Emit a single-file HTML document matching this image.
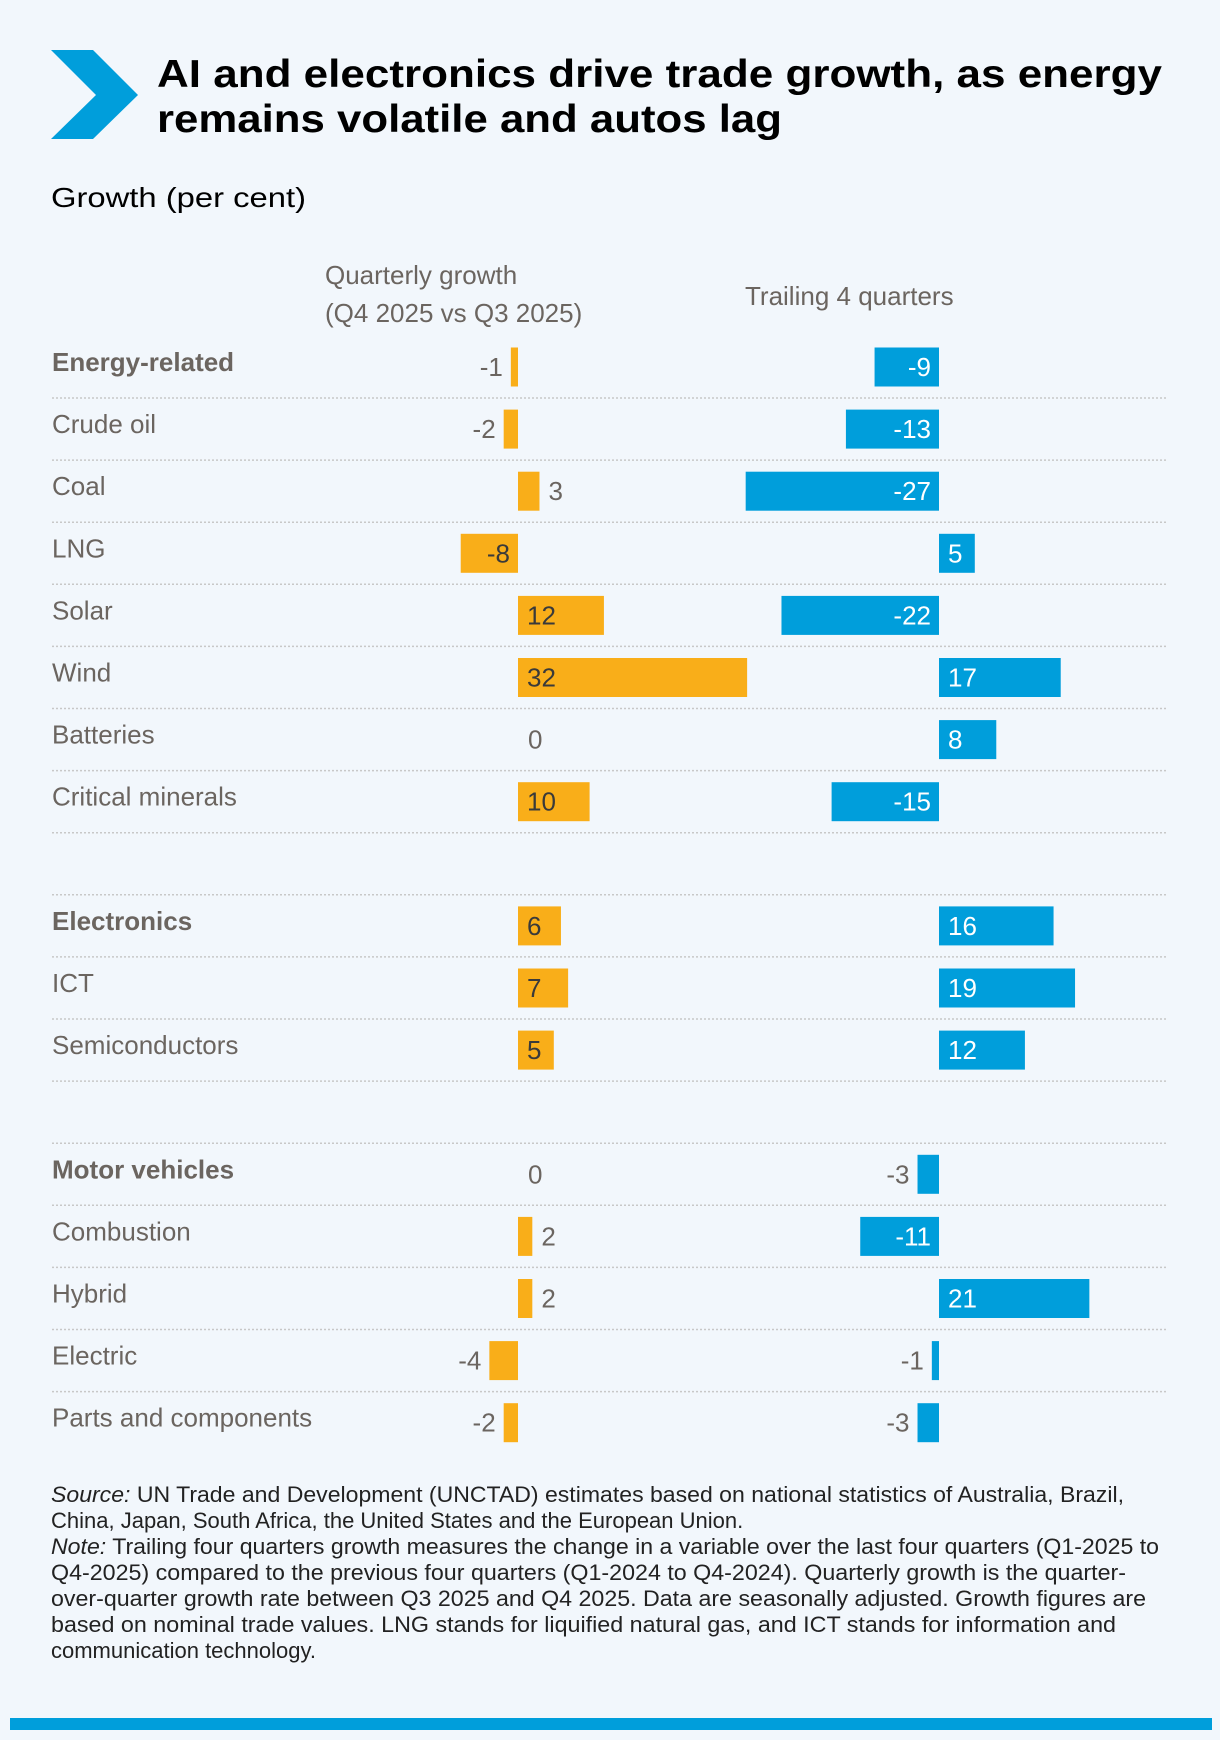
<!DOCTYPE html>
<html><head><meta charset="utf-8">
<style>
html,body{margin:0;padding:0;background:#f2f7fc;}
svg{display:block;}
text{font-family:"Liberation Sans Narrow","Liberation Sans",sans-serif;}
</style></head>
<body>
<svg id="chart" width="1220" height="1740" viewBox="0 0 1220 1740" xmlns="http://www.w3.org/2000/svg">
<rect x="0" y="0" width="1220" height="1740" fill="#f2f7fc"/>
<polygon points="51,50 93,50 138,95 93,139 51,139 96,95" fill="#009edb"/>
<text x="157" y="87" font-weight="bold" font-size="39" fill="#000" textLength="1005" lengthAdjust="spacingAndGlyphs" style="font-family:'Liberation Sans',sans-serif">AI and electronics drive trade growth, as energy</text>
<text x="157" y="132" font-weight="bold" font-size="39" fill="#000" textLength="625" lengthAdjust="spacingAndGlyphs" style="font-family:'Liberation Sans',sans-serif">remains volatile and autos lag</text>
<text x="51" y="207" font-size="28" fill="#000" textLength="255" lengthAdjust="spacingAndGlyphs" style="font-family:'Liberation Sans',sans-serif">Growth (per cent)</text>
<text x="325" y="284" font-size="26" fill="#6b6560">Quarterly growth</text>
<text x="325" y="322" font-size="26" fill="#6b6560">(Q4 2025 vs Q3 2025)</text>
<text x="745" y="305" font-size="26" fill="#6b6560">Trailing 4 quarters</text>
<g id="rows"></g>
<g font-size="22" fill="#222">
<text x="51" y="1502" textLength="1073" lengthAdjust="spacingAndGlyphs"><tspan font-style="italic">Source:</tspan> UN Trade and Development (UNCTAD) estimates based on national statistics of Australia, Brazil,</text>
<text x="51" y="1528"><tspan>China, Japan, South Africa, the United States and the European Union.</tspan></text>
<text x="51" y="1554" textLength="1108" lengthAdjust="spacingAndGlyphs"><tspan font-style="italic">Note:</tspan> Trailing four quarters growth measures the change in a variable over the last four quarters (Q1-2025 to</text>
<text x="51" y="1580" textLength="1075" lengthAdjust="spacingAndGlyphs">Q4-2025) compared to the previous four quarters (Q1-2024 to Q4-2024). Quarterly growth is the quarter-</text>
<text x="51" y="1606" textLength="1095" lengthAdjust="spacingAndGlyphs">over-quarter growth rate between Q3 2025 and Q4 2025. Data are seasonally adjusted. Growth figures are</text>
<text x="51" y="1632" textLength="1065" lengthAdjust="spacingAndGlyphs">based on nominal trade values. LNG stands for liquified natural gas, and ICT stands for information and</text>
<text x="51" y="1658">communication technology.</text>
</g>
<rect x="10" y="1718" width="1202" height="12" fill="#009edb"/>
</svg>
<script>
const categories = ["Energy-related","Crude oil","Coal","LNG","Solar","Wind","Batteries","Critical minerals",null,"Electronics","ICT","Semiconductors",null,"Motor vehicles","Combustion","Hybrid","Electric","Parts and components"];
const boldRows = ["Energy-related","Electronics","Motor vehicles"];
const quarterly = [-1,-2,3,-8,12,32,0,10,null,6,7,5,null,0,2,2,-4,-2];
const trailing = [-9,-13,-27,5,-22,17,8,-15,null,16,19,12,null,-3,-11,21,-1,-3];

const NS = "http://www.w3.org/2000/svg";
const g = document.getElementById('rows');
const unit = 7.16;
const qZero = 518, tZero = 939;
const xQ = v => qZero + v*unit;
const xT = v => tZero + v*unit;
const yC = i => 367 + 62.1*i;
const barH = 39;
function mk(tag, attrs){const e=document.createElementNS(NS,tag);for(const k in attrs)e.setAttribute(k,attrs[k]);g.appendChild(e);return e;}

for(let k=0;k<17;k++){
  const y = 398 + 62.1*k;
  const l = mk('line',{x1:52,x2:1167,y1:y,y2:y,stroke:'#c8c8c8','stroke-width':1.5,'stroke-dasharray':'2 2'});
  
  
}

function drawBar(v, xf, zero, i, color, inColor, prefix){
  const cy = yC(i);
  const x0 = Math.min(xf(0), xf(v)), w = Math.abs(xf(v)-xf(0));
  if (v !== 0){
    const r = mk('rect',{x:x0,y:cy-barH/2,width:w,height:barH,fill:color});
    
    
  }
  const t = mk('text',{y:cy+9,'font-size':26});
  t.textContent = String(v);
  const inside = Math.abs(v) >= 5;
  if (v === 0){ t.setAttribute('x', zero+10); t.setAttribute('fill','#6b6560'); }
  else if (inside){
    t.setAttribute('fill', inColor);
    if (v>0){ t.setAttribute('x', zero+9); }
    else { t.setAttribute('x', zero-8); t.setAttribute('text-anchor','end'); }
  } else {
    t.setAttribute('fill','#6b6560');
    if (v>0){ t.setAttribute('x', xf(v)+9); }
    else { t.setAttribute('x', xf(v)-8); t.setAttribute('text-anchor','end'); }
  }
  
  
}

categories.forEach((c,i)=>{
  if(c===null) return;
  const cy = yC(i);
  const lab = mk('text',{x:52,y:cy+4,'font-size':26,fill:'#6b6560'});
  if (boldRows.includes(c)) lab.setAttribute('font-weight','bold');
  lab.textContent = c;
  
  
  drawBar(quarterly[i], xQ, qZero, i, '#f9ae19', '#3a3a3a', 'quarterly');
  drawBar(trailing[i], xT, tZero, i, '#009edb', '#ffffff', 'trailing');
});
</script>
</body></html>
